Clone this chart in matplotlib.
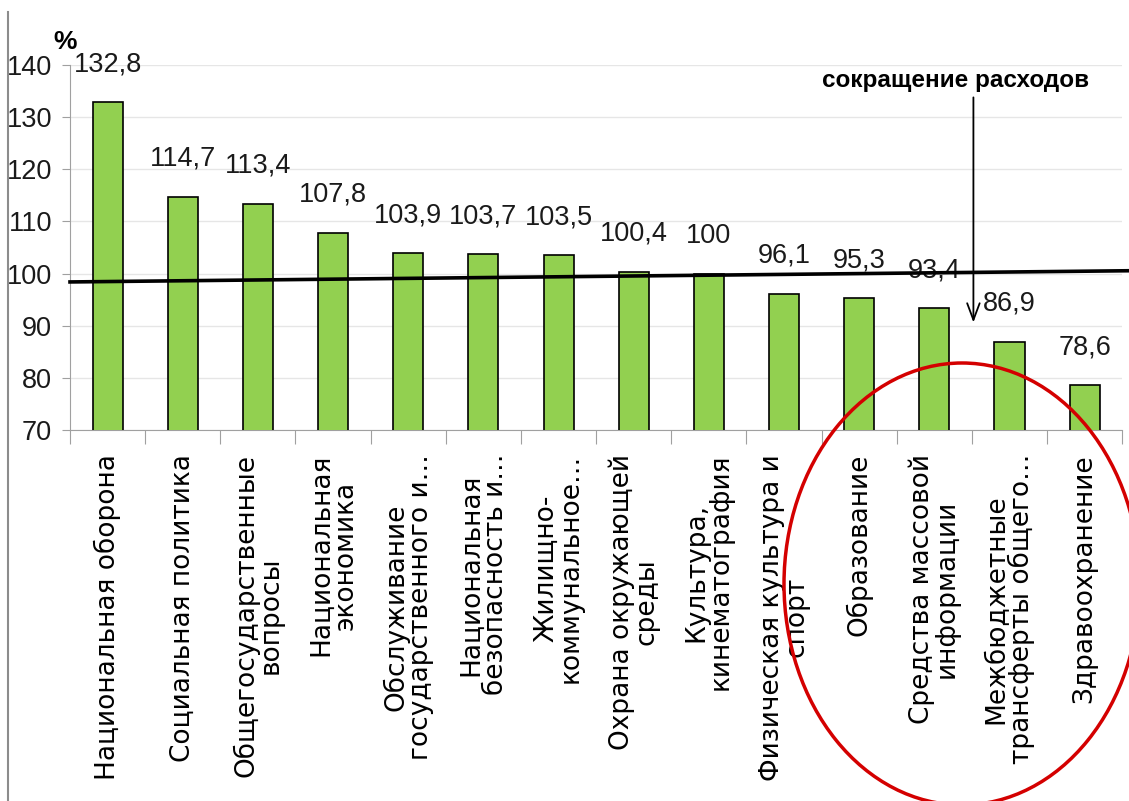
import matplotlib
matplotlib.use('Agg')
import matplotlib.pyplot as plt
from matplotlib.patches import Ellipse
from matplotlib.lines import Line2D
import numpy as np

categories = [
    'Национальная оборона',
    'Социальная политика',
    'Общегосударственные\nвопросы',
    'Национальная\nэкономика',
    'Обслуживание\nгосударственного и…',
    'Национальная\nбезопасность и…',
    'Жилищно-\nкоммунальное…',
    'Охрана окружающей\nсреды',
    'Культура,\nкинематография',
    'Физическая культура и\nспорт',
    'Образование',
    'Средства массовой\nинформации',
    'Межбюджетные\nтрансферты общего…',
    'Здравоохранение',
]
values = [132.8, 114.7, 113.4, 107.8, 103.9, 103.7, 103.5, 100.4, 100, 96.1, 95.3, 93.4, 86.9, 78.6]
value_labels = ['132,8', '114,7', '113,4', '107,8', '103,9', '103,7', '103,5', '100,4', '100',
                '96,1', '95,3', '93,4', '86,9', '78,6']
y_ticks = [70, 80, 90, 100, 110, 120, 130, 140]

# trend line (start / end, data units)
trend_x = [-0.5, 13.6]
trend_y = [98.4, 100.55]

num_font = 'Liberation Sans'

fig = plt.figure(figsize=(11.29, 8.01), dpi=100)
ax = fig.add_axes([0.062, 0.463, 0.932, 0.456])

x = np.arange(len(values))
ax.bar(x, values, width=0.4, color='#92D050', edgecolor='black', linewidth=1.2, zorder=3)

for xi, v, lab in zip(x, values, value_labels):
    ax.annotate(lab, (xi, v), xytext=(0, 18), textcoords='offset points',
                ha='center', va='bottom', fontsize=19.5, family=num_font, color='#1a1a1a')

ax.plot(trend_x, trend_y, color='black', lw=2.6, zorder=4, clip_on=False)

ax.set_xlim(-0.5, 13.5)
ax.set_ylim(70, 140)
ax.set_yticks(y_ticks)
ax.set_yticklabels([str(t) for t in y_ticks], family=num_font, fontsize=19.5, color='#1a1a1a')
ax.yaxis.grid(True, color='#E6E6E6', lw=1, zorder=0)
ax.set_axisbelow(True)

ax.set_xticks(np.arange(-0.5, 13.6, 1.0))
ax.set_xticklabels([])
ax.tick_params(axis='x', length=10, color='#A0A0A0', direction='out')
ax.tick_params(axis='y', length=6, color='#A0A0A0', pad=7)
for sp in ['top', 'right']:
    ax.spines[sp].set_visible(False)
ax.spines['left'].set_color('#A0A0A0')
ax.spines['bottom'].set_color('#A0A0A0')

for xi, c in zip(x, categories):
    ax.text(xi, -0.065, c, transform=ax.get_xaxis_transform(), rotation=90,
            ha='center', va='top', multialignment='center', fontsize=19,
            family='DejaVu Sans', linespacing=0.92, color='black')

# reduction arrow and caption
ax.annotate('', xy=(11.52, 90.1), xytext=(11.52, 134.3),
            arrowprops=dict(arrowstyle='->, head_length=1.2, head_width=0.45', color='black', lw=1.3),
            zorder=5)
ax.text(11.28, 137.0, 'сокращение расходов', ha='center', va='center', fontsize=17.5,
        family=num_font, fontweight='bold', zorder=5)

fig.text(65 / 1129, 1 - 42 / 801, '%', ha='center', va='center', fontsize=19,
         family=num_font, fontweight='bold')

# red ellipse highlighting cuts
ell = Ellipse((962 / 1129, 217 / 801), 356 / 1129, 442 / 801, transform=fig.transFigure,
              fill=False, edgecolor='#D40000', lw=2.5, zorder=10)
fig.patches.append(ell)

# left frame line
fig.lines.append(Line2D([8 / 1129, 8 / 1129], [0, 1 - 12 / 801], transform=fig.transFigure,
                        color='#8C8C8C', lw=1.5))

fig.savefig('out.png', dpi=100)
